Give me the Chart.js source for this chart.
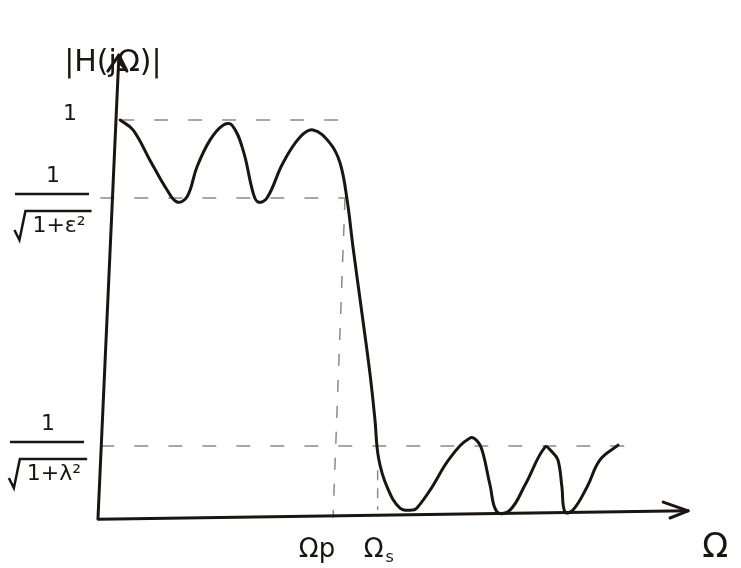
<!DOCTYPE html>
<html>
<head>
<meta charset="utf-8">
<title>Elliptic low-pass response</title>
<script src="https://cdn.jsdelivr.net/npm/chart.js@4.4.1/dist/chart.umd.min.js"></script>
<style>
  html, body { margin: 0; padding: 0; background: #fff; }
  #ResponseChart { display: block; }
</style>
</head>
<body>
<canvas id="ResponseChart" width="741" height="568"></canvas>
<script>
// Magnitude response |H(jΩ)|, frequency normalised so that Ωp = 1
const responseX = [
  0.094, 0.149, 0.221, 0.294, 0.336, 0.379, 0.421, 0.477, 0.532, 0.570,
  0.617, 0.660, 0.681, 0.719, 0.787, 0.860, 0.915, 0.987, 1.030, 1.060,
  1.085, 1.123, 1.157, 1.178, 1.194, 1.230, 1.285, 1.340, 1.357, 1.413,
  1.498, 1.583, 1.617, 1.638, 1.668, 1.698, 1.753, 1.817, 1.902, 1.932,
  1.957, 1.974, 1.987, 2.021, 2.081, 2.136, 2.213
];
const responseY = [
  1.000, 0.975, 0.899, 0.824, 0.794, 0.807, 0.882, 0.950, 0.987, 0.987,
  0.925, 0.817, 0.794, 0.804, 0.892, 0.957, 0.975, 0.942, 0.892, 0.799,
  0.681, 0.515, 0.364, 0.250, 0.150, 0.078, 0.025, 0.020, 0.025, 0.070,
  0.151, 0.201, 0.191, 0.163, 0.083, 0.015, 0.020, 0.083, 0.178, 0.166,
  0.146, 0.078, 0.015, 0.020, 0.078, 0.146, 0.183
];

// reference levels and band edges
const levelValues = [1, 0.804, 0.181];
const levelStarts = [0.094, 0.01, 0.01];
const levelEnds = [1.05, 1.06, 2.31];
const omegaP = 1.0;
const omegaS = 1.19;

// hand-drawn axes (slightly tilted), with arrow heads
const yAxisX = [0, 0.089];
const yAxisY = [0, 1.163];
const xAxisX = [0, 2.511];
const xAxisY = [-0.003, 0.018];

const ink = "#1b1511";
const faint = "#8a8a8a";

function pts(xs, ys) {
  return xs.map((x, i) => ({ x: x, y: ys[i] }));
}

function refLine(data, dash) {
  return {
    data: data,
    borderColor: faint,
    borderWidth: 1.5,
    borderDash: dash,
    pointRadius: 0,
    tension: 0,
    order: 5,
  };
}

function inkLine(data, width) {
  return {
    data: data,
    borderColor: ink,
    borderWidth: width,
    pointRadius: 0,
    tension: 0,
    borderCapStyle: "round",
    borderJoinStyle: "round",
    order: 1,
  };
}

const datasets = [];

// dashed ripple levels
levelValues.forEach((lv, i) => {
  datasets.push(refLine([{ x: levelStarts[i], y: lv }, { x: levelEnds[i], y: lv }], [14, 20]));
});

// dashed band edges
datasets.push(refLine([{ x: omegaP + 0.051, y: levelValues[1] }, { x: omegaP, y: 0 }], [12, 14]));
datasets.push(refLine([{ x: omegaS, y: 0.12 }, { x: omegaS, y: 0.02 }], [10, 8]));

// axes
datasets.push(inkLine(pts(yAxisX, yAxisY), 3));
datasets.push(inkLine(pts(xAxisX, xAxisY), 3));

// arrow heads
const yTip = { x: yAxisX[1], y: yAxisY[1] };
datasets.push(inkLine([{ x: yTip.x - 0.047, y: yTip.y - 0.04 }, yTip, { x: yTip.x + 0.034, y: yTip.y - 0.04 }], 3));
const xTip = { x: xAxisX[1], y: xAxisY[1] };
datasets.push(inkLine([{ x: xTip.x - 0.106, y: xTip.y + 0.022 }, xTip, { x: xTip.x - 0.077, y: xTip.y - 0.018 }], 3));

// response curve
datasets.push({
  data: pts(responseX, responseY),
  borderColor: ink,
  borderWidth: 3,
  pointRadius: 0,
  tension: 0.4,
  borderCapStyle: "round",
  borderJoinStyle: "round",
  order: 0,
});

function drawRadical(ctx, cx, cy, body, size) {
  ctx.font = `${size}px "DejaVu Sans"`;
  const w = ctx.measureText(body).width;
  const left = cx - w / 2;
  ctx.fillText(body, left + w / 2 + 6, cy);
  ctx.beginPath();
  ctx.moveTo(left - 12, cy + 4);
  ctx.lineTo(left - 7, cy + 14);
  ctx.lineTo(left - 1, cy - 15);
  ctx.lineTo(left + w + 12, cy - 15);
  ctx.stroke();
}

const labelPlugin = {
  id: "sketchLabels",
  afterDraw(chart) {
    const ctx = chart.ctx;
    const xs = chart.scales.x;
    const ys = chart.scales.y;
    const x0 = xs.getPixelForValue(0);

    ctx.save();
    ctx.fillStyle = ink;
    ctx.strokeStyle = ink;
    ctx.lineWidth = 2.5;
    ctx.textAlign = "center";
    ctx.textBaseline = "middle";

    // axis title at the top of the vertical axis
    ctx.font = '30px "DejaVu Sans"';
    ctx.fillText("|H(jΩ)|", xs.getPixelForValue(yTip.x) - 6, ys.getPixelForValue(yTip.y) + 8);

    // level "1"
    ctx.font = '22px "DejaVu Sans"';
    ctx.fillText("1", x0 - 28, ys.getPixelForValue(levelValues[0]) - 6);

    // fractions for the ripple levels
    const fracs = [
      { y: levelValues[1], cx: x0 - 45, sym: "ε" },
      { y: levelValues[2], cx: x0 - 50, sym: "λ" },
    ];
    fracs.forEach((f) => {
      const py = ys.getPixelForValue(f.y);
      ctx.font = '22px "DejaVu Sans"';
      ctx.fillText("1", f.cx, py - 22);
      ctx.beginPath();
      ctx.moveTo(f.cx - 38, py - 4);
      ctx.lineTo(f.cx + 36, py - 4);
      ctx.stroke();
      drawRadical(ctx, f.cx, py + 28, "1+" + f.sym + "²", 22);
    });

    // band-edge labels under the frequency axis
    const base = ys.getPixelForValue(0) + 32;
    ctx.font = '26px "DejaVu Sans"';
    ctx.fillText("Ωp", xs.getPixelForValue(omegaP) - 16, base);
    ctx.fillText("Ω", xs.getPixelForValue(omegaS) - 4, base);
    ctx.font = '16px "DejaVu Sans"';
    ctx.fillText("s", xs.getPixelForValue(omegaS) + 12, base + 8);

    // frequency axis name
    ctx.font = '34px "DejaVu Sans"';
    ctx.fillText("Ω", xs.getPixelForValue(xTip.x) + 27, base - 2);

    ctx.restore();
  },
};

const ctx = document.getElementById("ResponseChart").getContext("2d");
new Chart(ctx, {
  type: "line",
  data: { datasets: datasets },
  options: {
    responsive: false,
    animation: false,
    layout: { padding: 0 },
    scales: {
      x: { type: "linear", min: -0.417, max: 2.736, display: false },
      y: { type: "linear", min: -0.1256, max: 1.3015, display: false },
    },
    plugins: {
      legend: { display: false },
      tooltip: { enabled: false },
    },
  },
  plugins: [labelPlugin],
});
</script>
</body>
</html>
